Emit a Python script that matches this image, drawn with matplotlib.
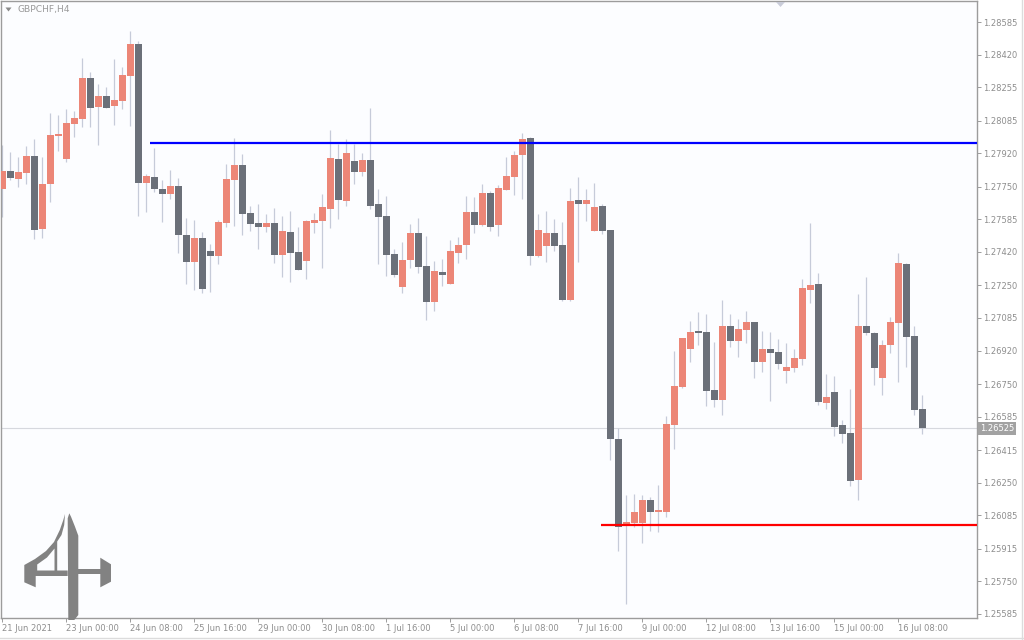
import matplotlib
matplotlib.use("Agg")
from matplotlib import pyplot as plt
from matplotlib.patches import Polygon
import matplotlib.transforms as mtransforms
import numpy as np

symbol = "GBPCHF,H4"

opens = [
    1.27740, 1.27830, 1.27791, 1.27821, 1.27908, 1.27536, 1.27766, 1.28009, 1.27892, 1.28070,
    1.28095, 1.28302, 1.28155, 1.28209, 1.28160, 1.28186, 1.28313, 1.28475, 1.27771, 1.27800,
    1.27739, 1.27715, 1.27754, 1.27506, 1.27370, 1.27490, 1.27424, 1.27401, 1.27568, 1.27786,
    1.27860, 1.27617, 1.27566, 1.27546, 1.27566, 1.27404, 1.27521, 1.27419, 1.27374, 1.27566,
    1.27577, 1.27637, 1.27891, 1.27678, 1.27881, 1.27825, 1.27886, 1.27663, 1.27602, 1.27409,
    1.27242, 1.27379, 1.27516, 1.27348, 1.27166, 1.27318, 1.27257, 1.27414, 1.27455, 1.27622,
    1.27556, 1.27718, 1.27556, 1.27734, 1.27800, 1.27911, 1.27997, 1.27399, 1.27450, 1.27516,
    1.27455, 1.27176, 1.27683, 1.27663, 1.27526, 1.27653, 1.27531, 1.26471, 1.26040, 1.26045,
    1.26045, 1.26162, 1.26101, 1.26101, 1.26542, 1.26735, 1.26928, 1.27019, 1.27014, 1.26720,
    1.26669, 1.27044, 1.26968, 1.27024, 1.27064, 1.26862, 1.26928, 1.26912, 1.26816, 1.26831,
    1.26877, 1.27227, 1.27257, 1.26654, 1.26710, 1.26542, 1.26502, 1.26263, 1.27044, 1.27009,
    1.26781, 1.26948, 1.27059, 1.27359, 1.26993, 1.26623,
]
highs = [
    1.27962, 1.27926, 1.27903, 1.27958, 1.27991, 1.27901, 1.28124, 1.28114, 1.28144, 1.28136,
    1.28403, 1.28332, 1.28271, 1.28254, 1.28398, 1.28356, 1.28540, 1.28491, 1.27815, 1.27947,
    1.27784, 1.27835, 1.27795, 1.27592, 1.27582, 1.27521, 1.27461, 1.27582, 1.27866, 1.27999,
    1.27916, 1.27653, 1.27663, 1.27612, 1.27642, 1.27602, 1.27627, 1.27546, 1.27582, 1.27617,
    1.27713, 1.28038, 1.27967, 1.27992, 1.27967, 1.27921, 1.28149, 1.27739, 1.27703, 1.27435,
    1.27470, 1.27561, 1.27592, 1.27500, 1.27374, 1.27384, 1.27480, 1.27495, 1.27703, 1.27698,
    1.27764, 1.27729, 1.27759, 1.27901, 1.27931, 1.28023, 1.28002, 1.27612, 1.27627, 1.27587,
    1.27571, 1.27744, 1.27800, 1.27739, 1.27769, 1.27663, 1.27531, 1.26527, 1.26187, 1.26192,
    1.26187, 1.26177, 1.26238, 1.26588, 1.26917, 1.26983, 1.27070, 1.27115, 1.27105, 1.26963,
    1.27176, 1.27105, 1.27080, 1.27120, 1.27064, 1.27019, 1.27014, 1.26978, 1.26958, 1.26928,
    1.27282, 1.27566, 1.27313, 1.26801, 1.26791, 1.26568, 1.26725, 1.27206, 1.27293, 1.27014,
    1.26973, 1.27090, 1.27414, 1.27364, 1.27044, 1.26694,
]
lows = [
    1.27598, 1.27784, 1.27750, 1.27763, 1.27487, 1.27492, 1.27674, 1.27933, 1.27877, 1.28004,
    1.28055, 1.28055, 1.27963, 1.28151, 1.28065, 1.28146, 1.28060, 1.27603, 1.27624, 1.27725,
    1.27573, 1.27690, 1.27413, 1.27257, 1.27227, 1.27213, 1.27217, 1.27360, 1.27548, 1.27553,
    1.27506, 1.27526, 1.27435, 1.27521, 1.27364, 1.27293, 1.27267, 1.27328, 1.27282, 1.27516,
    1.27338, 1.27541, 1.27587, 1.27653, 1.27764, 1.27805, 1.27637, 1.27359, 1.27298, 1.27293,
    1.27211, 1.27338, 1.27313, 1.27075, 1.27120, 1.27247, 1.27257, 1.27364, 1.27384, 1.27516,
    1.27551, 1.27526, 1.27500, 1.27734, 1.27708, 1.27688, 1.27353, 1.27394, 1.27369, 1.27424,
    1.27171, 1.27171, 1.27369, 1.27577, 1.27526, 1.27511, 1.26365, 1.25903, 1.25635, 1.26025,
    1.25944, 1.26005, 1.26000, 1.26076, 1.26421, 1.26730, 1.26862, 1.26948, 1.26639, 1.26634,
    1.26593, 1.26938, 1.26887, 1.26958, 1.26781, 1.26811, 1.26664, 1.26826, 1.26755, 1.26811,
    1.26846, 1.27161, 1.26644, 1.26623, 1.26486, 1.26451, 1.26233, 1.26162, 1.26999, 1.26745,
    1.26694, 1.26907, 1.26760, 1.26836, 1.26593, 1.26497,
]
closes = [
    1.27830, 1.27796, 1.27825, 1.27908, 1.27531, 1.27766, 1.28013, 1.28018, 1.28073, 1.28099,
    1.28302, 1.28151, 1.28209, 1.28151, 1.28190, 1.28317, 1.28475, 1.27771, 1.27805, 1.27740,
    1.27715, 1.27754, 1.27507, 1.27370, 1.27490, 1.27233, 1.27401, 1.27571, 1.27789, 1.27860,
    1.27612, 1.27561, 1.27546, 1.27566, 1.27404, 1.27526, 1.27414, 1.27328, 1.27577, 1.27582,
    1.27648, 1.27896, 1.27683, 1.27921, 1.27825, 1.27886, 1.27653, 1.27597, 1.27404, 1.27303,
    1.27379, 1.27516, 1.27343, 1.27166, 1.27323, 1.27303, 1.27424, 1.27455, 1.27622, 1.27556,
    1.27718, 1.27546, 1.27744, 1.27805, 1.27911, 1.27992, 1.27399, 1.27531, 1.27516, 1.27450,
    1.27176, 1.27678, 1.27663, 1.27683, 1.27648, 1.27526, 1.26471, 1.26025, 1.26050, 1.26101,
    1.26162, 1.26101, 1.26111, 1.26547, 1.26740, 1.26983, 1.27014, 1.27009, 1.26715, 1.26669,
    1.27044, 1.26968, 1.27029, 1.27064, 1.26862, 1.26928, 1.26907, 1.26852, 1.26836, 1.26882,
    1.27237, 1.27252, 1.26659, 1.26684, 1.26532, 1.26497, 1.26258, 1.27044, 1.27009, 1.26831,
    1.26948, 1.27064, 1.27364, 1.26988, 1.26618, 1.26525,
]

date_labels = ["21 Jun 2021", "23 Jun 00:00", "24 Jun 08:00", "25 Jun 16:00", "29 Jun 00:00",
               "30 Jun 08:00", "1 Jul 16:00", "5 Jul 00:00", "6 Jul 08:00", "7 Jul 16:00",
               "9 Jul 00:00", "12 Jul 08:00", "13 Jul 16:00", "15 Jul 00:00", "16 Jul 08:00"]
date_bars = [0, 8, 16, 24, 32, 40, 48, 56, 64, 72, 80, 88, 96, 104, 112]

price_ticks = [1.28585, 1.28420, 1.28255, 1.28085, 1.27920, 1.27750, 1.27585, 1.27420,
               1.27250, 1.27085, 1.26920, 1.26750, 1.26585, 1.26415, 1.26250, 1.26085,
               1.25915, 1.25750, 1.25585]

resistance = 1.27974
resistance_start = 18.5
support = 1.26037
support_start = 74.8

BULL = "#ec8677"
BEAR = "#6b7079"
WICK = "#c6cbd9"
TXT = "#8e8e8e"
GRID = "#9c9c9c"
PLOT_BG = "#fcfdff"

o = np.array(opens)
h = np.array(highs)
l = np.array(lows)
c = np.array(closes)
x = np.arange(len(o))

W, H = 1024, 640
fig = plt.figure(figsize=(W / 100, H / 100), dpi=100, facecolor="#ffffff")
ax = fig.add_axes([1 / W, 1 - 618 / H, 976 / W, 617 / H])
ax.set_facecolor(PLOT_BG)

ax.set_xlim(-0.16, 121.84)
ax.set_ylim(1.25564, 1.28692)

# wicks then bodies
ax.vlines(x, l, h, color=WICK, linewidth=0.9, zorder=2)
up = c >= o
body_lo = np.minimum(o, c)
body_h = np.maximum(np.abs(c - o), 0.00006)
cols = np.where(up, BULL, BEAR)
ax.bar(x, body_h, bottom=body_lo, width=0.84, color=cols, linewidth=0, zorder=3)

# levels
xmax = ax.get_xlim()[1]
ax.hlines(resistance, resistance_start, xmax, color="#0000ff", linewidth=1.6, zorder=4)
ax.hlines(support, support_start, xmax, color="#ff0000", linewidth=1.6, zorder=4)
ax.axhline(c[-1], color="#d6d8de", linewidth=0.8, zorder=1)

# axes styling
for s in ax.spines.values():
    s.set_color(GRID)
    s.set_linewidth(1.0)
ax.yaxis.tick_right()
ax.set_yticks(price_ticks)
ax.set_yticklabels([f"{p:.5f}" for p in price_ticks])
ax.tick_params(axis="y", direction="out", length=3, width=0.7, color=GRID,
               labelsize=6, labelcolor=TXT, pad=1.5)
ax.set_xticks(date_bars)
ax.set_xticklabels(date_labels, ha="left")
ax.tick_params(axis="x", direction="out", length=3, width=0.7, color=GRID,
               labelsize=6, labelcolor=TXT, pad=1.5)

# current price box
trans = mtransforms.blended_transform_factory(ax.transAxes, ax.transData)
ax.text(1.003, c[-1], f"{c[-1]:.5f}", transform=trans, fontsize=6, color="white",
        va="center", ha="left",
        bbox=dict(boxstyle="square,pad=0.25", facecolor="#a2a2a2", edgecolor="none"),
        zorder=6, clip_on=False)


def px(xp, yp):
    return (xp / W, 1 - yp / H)


# symbol caption and small markers
fig.text(*px(17, 9.5), symbol, fontsize=6.6, color="#9a9a9a", va="center", ha="left")
fig.add_artist(Polygon([px(5.5, 7.5), px(11.5, 7.5), px(8.5, 11.5)], closed=True,
                       facecolor="#8a8a8a", edgecolor="none", transform=fig.transFigure))
fig.add_artist(Polygon([px(776, 2), px(785, 2), px(780.5, 7)], closed=True,
                       facecolor="#c9ccd9", edgecolor="none", transform=fig.transFigure))

# logo
LOGO = "#828282"
stem = [(69.3, 513.3), (71.0, 516.7), (75.0, 526.7), (78.3, 535.7), (78.3, 615),
        (74.3, 620), (68.3, 620), (67.7, 518.3)]
four = [(65.0, 514.0), (64.2, 525), (61.5, 535), (57.2, 541.5), (57.2, 570.5), (67.7, 570.5),
        (67.7, 576), (35.7, 576), (35.7, 587.3), (24.3, 582.3), (24.3, 565), (35, 559),
        (46, 551), (54, 542), (59.8, 530), (63.3, 520)]
hole = [(37.2, 564.5), (47, 557.5), (54.5, 548.5), (54.5, 570.5), (37.2, 570.5)]
bar = [(78.3, 569.3), (101, 569.3), (101, 574.3), (78.3, 574.3)]
right = [(100.3, 557.7), (111, 564.3), (111, 581.7), (100.3, 587.3)]
for shape, colr in [(four, LOGO), (hole, PLOT_BG), (stem, LOGO), (bar, LOGO), (right, LOGO)]:
    fig.add_artist(Polygon([px(a, b) for a, b in shape], closed=True, facecolor=colr,
                           edgecolor="none", transform=fig.transFigure, zorder=10))

# window border
fig.add_artist(plt.Line2D([0, 1], [1 - 637.5 / H] * 2, color="#dcdcdc", linewidth=1,
                          transform=fig.transFigure))
fig.add_artist(plt.Line2D([1021.5 / W] * 2, [0, 1], color="#dcdcdc", linewidth=1,
                          transform=fig.transFigure))

fig.savefig("out.png", dpi=100, facecolor=fig.get_facecolor())
